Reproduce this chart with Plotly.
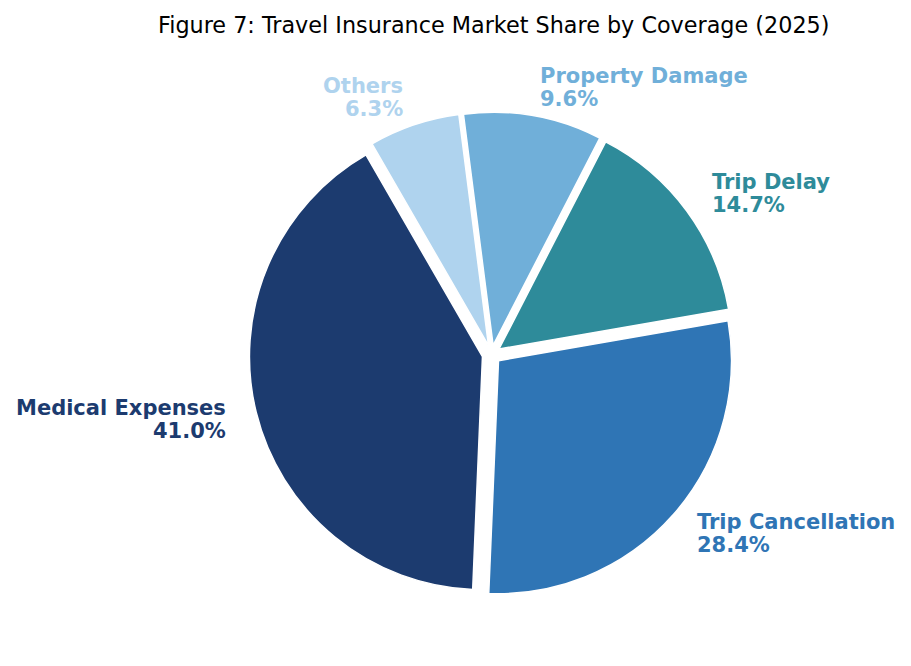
import math
import plotly.graph_objects as go

labels = ["Medical Expenses", "Trip Cancellation", "Trip Delay", "Property Damage", "Others"]
values = [41.0, 28.4, 14.7, 9.6, 6.3]
colors = ["#1c3b6f", "#2f75b5", "#2e8b9a", "#70afd9", "#afd3ee"]
pulls = [0.04, 0.04, 0.04, 0.04, 0.04]
title = "Figure 7: Travel Insurance Market Share by Coverage (2025)"

OFF = 8                    # page body margin of the browser
W, H = 911 - OFF, 666 - OFF
cx, cy = 491.5 - OFF, 354.5 - OFF   # pie centre in figure pixels (from top-left)
r = 233                    # pie radius in pixels
start_deg = 120            # math angle where first slice starts (ccw)
label_dist = 1.125         # label distance (fraction of radius) from pulled centre
maxpull = max(pulls)
half_box = r * (1 + maxpull)

total = sum(values)
first_end = start_deg + values[0] / total * 360

fig = go.Figure(go.Pie(
    labels=labels, values=values, sort=False,
    direction="counterclockwise", rotation=90 - first_end,
    marker=dict(colors=colors, line=dict(color="white", width=1.5)),
    pull=pulls, textinfo="none", hoverinfo="label+percent",
    domain=dict(x=[(cx - half_box) / W, (cx + half_box) / W],
                y=[(H - cy - half_box) / H, (H - cy + half_box) / H]),
    showlegend=False,
))

cum = 0.0
annotations = []
for lab, v, c, p in zip(labels, values, colors, pulls):
    mid = start_deg + (cum + v / 2) / total * 360
    cum += v
    a = math.radians(mid)
    dist = (label_dist + p) * r
    px = cx + dist * math.cos(a)
    py = cy - dist * math.sin(a)
    xanchor = "left" if math.cos(a) >= 0 else "right"
    for txt, shift in ((lab, 11.5), (f"{v / total * 100:.1f}%", -11.5)):
        annotations.append(dict(
            x=px / W, y=(H - py) / H, xref="paper", yref="paper",
            text=f"<b>{txt}</b>", showarrow=False, xanchor=xanchor, yanchor="middle",
            align=xanchor, yshift=shift,
            font=dict(family="DejaVu Sans", size=21, color=c),
        ))

annotations.append(dict(
    x=(493 - OFF) / W, y=(H - (25 - OFF)) / H, xref="paper", yref="paper", text=title,
    showarrow=False, xanchor="center", yanchor="middle",
    font=dict(family="DejaVu Sans", size=22.3, color="black"),
))

fig.update_layout(
    width=W, height=H, margin=dict(l=0, r=0, t=0, b=0),
    paper_bgcolor="white", plot_bgcolor="white",
    annotations=annotations,
)
fig.write_html("out.html")
